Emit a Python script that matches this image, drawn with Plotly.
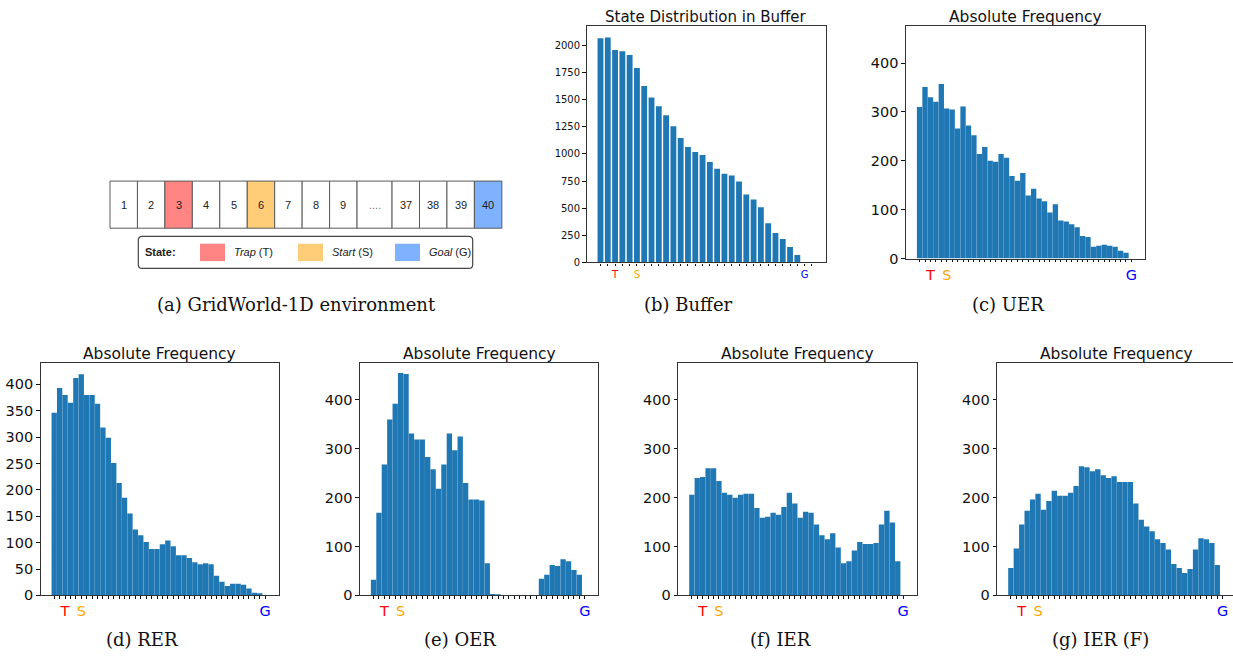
import plotly.graph_objects as go

W, H = 1233, 660

# ---------------- data ----------------
states = list(range(1, 41))
buffer_positions = list(range(1, 31))

buffer_counts = [2065, 2070, 1955, 1945, 1910, 1790, 1625, 1518, 1438, 1355,
                 1255, 1145, 1063, 1018, 990, 925, 862, 818, 800, 745,
                 625, 580, 508, 362, 272, 216, 143, 70, 0, 0]
uer_counts = [310, 351, 330, 321, 357, 307, 305, 266, 311, 272,
              252, 214, 228, 200, 198, 214, 206, 169, 159, 175,
              129, 143, 123, 117, 94, 111, 78, 76, 70, 64,
              46, 44, 24, 26, 28, 26, 24, 16, 12, 0]
rer_counts = [346, 393, 380, 365, 412, 419, 380, 380, 363, 318,
              299, 251, 213, 185, 155, 125, 114, 101, 88, 88,
              97, 104, 93, 76, 76, 71, 63, 59, 61, 59,
              37, 26, 18, 22, 22, 20, 13, 5, 4, 0]
oer_counts = [32, 169, 268, 360, 392, 455, 453, 331, 319, 319,
              283, 258, 218, 268, 331, 297, 325, 230, 196, 196,
              194, 66, 3, 1, 0, 0, 0, 0, 0, 0,
              0, 34, 42, 62, 60, 74, 70, 52, 42, 0]
ier_counts = [206, 240, 242, 260, 260, 234, 210, 206, 200, 206,
              208, 208, 179, 159, 161, 169, 165, 181, 210, 188,
              159, 171, 169, 145, 123, 115, 127, 98, 66, 70,
              92, 109, 105, 105, 107, 145, 173, 149, 70, 0]
ierf_counts = [56, 96, 145, 173, 196, 208, 175, 193, 214, 204,
               204, 210, 224, 264, 262, 254, 258, 246, 240, 244,
               232, 232, 232, 188, 155, 141, 131, 115, 107, 94,
               64, 56, 46, 54, 94, 117, 115, 107, 62, 0]

state_marks = {3: "T", 6: "S", 40: "G"}
buffer_marks = {3: "T", 6: "S", 29: "G"}
mark_colors = {"T": "red", "S": "orange", "G": "blue"}

buffer_yticks = [0, 250, 500, 750, 1000, 1250, 1500, 1750, 2000]
freq_yticks = [0, 100, 200, 300, 400]
rer_yticks = [0, 50, 100, 150, 200, 250, 300, 350, 400]

grid_labels = ["1", "2", "3", "4", "5", "6", "7", "8", "9", "....", "37", "38", "39", "40"]
trap_label, start_label, goal_label = "3", "6", "40"

captions = ["(a) GridWorld-1D environment", "(b) Buffer", "(c) UER",
            "(d) RER", "(e) OER", "(f) IER", "(g) IER (F)"]

# ---------------- helpers ----------------
BAR = "#1f77b4"
TRAP_C, START_C, GOAL_C = "#FF8585", "#FFCD78", "#7EB2FF"


def X(px):
    return px / W


def Y(py):
    return 1 - py / H


fig = go.Figure()
layout = dict(width=W, height=H, margin=dict(l=0, r=0, t=0, b=0),
              paper_bgcolor="white", plot_bgcolor="white", showlegend=False,
              shapes=[], annotations=[])

panels = [
    dict(x=buffer_positions, y=buffer_counts, frame=(586.7, 825.7, 26.7, 265.7),
         xr=[-0.89, 31.89], yr=[0, 2173.5], yt=buffer_yticks,
         title="State Distribution in Buffer", marks=buffer_marks, bw=0.8, fs=10, tfs=15),
    dict(x=states, y=uer_counts, frame=(906, 1145, 26.7, 261.7),
         xr=[-1.5, 42.5], yr=[0, 475], yt=freq_yticks,
         title="Absolute Frequency", marks=state_marks, bw=0.985, fs=14.5, tfs=15.5),
    dict(x=states, y=rer_counts, frame=(40.7, 278.7, 367.7, 602.7),
         xr=[-1.5, 42.5], yr=[0, 440], yt=rer_yticks,
         title="Absolute Frequency", marks=state_marks, bw=0.985, fs=14.5, tfs=15.5),
    dict(x=states, y=oer_counts, frame=(360, 598.3, 367.7, 602.7),
         xr=[-1.5, 42.5], yr=[0, 475], yt=freq_yticks,
         title="Absolute Frequency", marks=state_marks, bw=0.985, fs=14.5, tfs=15.5),
    dict(x=states, y=ier_counts, frame=(678.3, 916.7, 367.7, 602.7),
         xr=[-1.5, 42.5], yr=[0, 475], yt=freq_yticks,
         title="Absolute Frequency", marks=state_marks, bw=0.985, fs=14.5, tfs=15.5),
    dict(x=states, y=ierf_counts, frame=(997.3, 1236.3, 367.7, 602.7),
         xr=[-1.5, 42.5], yr=[0, 475], yt=freq_yticks,
         title="Absolute Frequency", marks=state_marks, bw=0.985, fs=14.5, tfs=15.5),
]

for i, p in enumerate(panels):
    n = i + 1
    xa = "x" if n == 1 else f"x{n}"
    ya = "y" if n == 1 else f"y{n}"
    x0, x1, y0, y1 = p["frame"]
    xr = list(p["xr"])
    right_line = True
    if x1 > W:
        xr[1] = xr[0] + (W - x0) / (x1 - x0) * (xr[1] - xr[0])
        x1 = W
        right_line = False
    fig.add_trace(go.Bar(x=p["x"], y=p["y"], width=p["bw"], marker=dict(color=BAR, line=dict(width=0)),
                         xaxis=xa, yaxis=ya, hoverinfo="x+y"))
    ticktext = []
    for s in p["x"]:
        if s in p["marks"]:
            lab = p["marks"][s]
            ticktext.append(f"<span style='color:{mark_colors[lab]}'>{lab}</span>")
        else:
            ticktext.append("")
    xkey = "xaxis" if n == 1 else f"xaxis{n}"
    ykey = "yaxis" if n == 1 else f"yaxis{n}"
    layout[xkey] = dict(domain=[X(x0), X(x1)], range=xr, anchor=ya,
                        tickmode="array", tickvals=p["x"], ticktext=ticktext,
                        ticks="outside", ticklen=2.5, tickwidth=1, tickcolor="#111",
                        tickfont=dict(family="DejaVu Sans", size=p["fs"]),
                        showgrid=False, zeroline=False, showline=True,
                        linecolor="#333", linewidth=1.2, mirror=True, fixedrange=True)
    layout[ykey] = dict(domain=[Y(y1), Y(y0)], range=p["yr"], anchor=xa,
                        tickmode="array", tickvals=p["yt"],
                        ticks="outside", ticklen=3.5, tickwidth=1, tickcolor="#111",
                        tickfont=dict(family="DejaVu Sans", size=p["fs"], color="#111"),
                        showgrid=False, zeroline=False, showline=True,
                        linecolor="#333", linewidth=1.2, mirror=right_line, fixedrange=True)
    fx0, fx1 = p["frame"][0], p["frame"][1]
    layout["annotations"].append(dict(
        text=p["title"], xref="paper", yref="paper", x=X((fx0 + fx1) / 2), y=Y(y0 - 9.0),
        xanchor="center", yanchor="middle", showarrow=False,
        font=dict(family="DejaVu Sans", size=p["tfs"], color="#111")))

# ---------------- GridWorld diagram ----------------
gx0, gy0, gy1 = 110.0, 183.3, 231.0
cw, wide = 27.45, 35.0
cx = gx0
for lab in grid_labels:
    w = wide if lab == "...." else cw
    fill = "white"
    if lab == trap_label:
        fill = TRAP_C
    elif lab == start_label:
        fill = START_C
    elif lab == goal_label:
        fill = GOAL_C
    layout["shapes"].append(dict(type="rect", xref="paper", yref="paper",
                                 x0=X(cx), x1=X(cx + w), y0=Y(gy1), y1=Y(gy0),
                                 fillcolor=fill, line=dict(color="#5a5a5a", width=1), layer="above"))
    layout["annotations"].append(dict(text=lab, xref="paper", yref="paper",
                                      x=X(cx + w / 2), y=Y((gy0 + gy1) / 2), xanchor="center", yanchor="middle",
                                      showarrow=False,
                                      font=dict(family="Liberation Sans, Arial", size=11,
                                                color="#777" if lab == "...." else "#222")))
    cx += w

# legend box with rounded corners
bx0, bx1, by0, by1, r = 138.3, 472.7, 239.3, 271.7, 4.0
path = (f"M {X(bx0 + r)} {Y(by0)} L {X(bx1 - r)} {Y(by0)} Q {X(bx1)} {Y(by0)} {X(bx1)} {Y(by0 + r)} "
        f"L {X(bx1)} {Y(by1 - r)} Q {X(bx1)} {Y(by1)} {X(bx1 - r)} {Y(by1)} "
        f"L {X(bx0 + r)} {Y(by1)} Q {X(bx0)} {Y(by1)} {X(bx0)} {Y(by1 - r)} "
        f"L {X(bx0)} {Y(by0 + r)} Q {X(bx0)} {Y(by0)} {X(bx0 + r)} {Y(by0)} Z")
layout["shapes"].append(dict(type="path", xref="paper", yref="paper", path=path,
                             line=dict(color="#444", width=1.2), fillcolor="white"))
ly = (by0 + by1) / 2
layout["annotations"].append(dict(text="<b>State:</b>", xref="paper", yref="paper", x=X(143), y=Y(ly),
                                  xanchor="left", yanchor="middle", showarrow=False,
                                  font=dict(family="Liberation Sans, Arial", size=11, color="#222")))
legend_items = [(200, TRAP_C, "<i>Trap</i> (T)"), (298, START_C, "<i>Start</i> (S)"), (395, GOAL_C, "<i>Goal</i> (G)")]
for sx, col, txt in legend_items:
    layout["shapes"].append(dict(type="rect", xref="paper", yref="paper",
                                 x0=X(sx), x1=X(sx + 25), y0=Y(264.3), y1=Y(246.7),
                                 fillcolor=col, line=dict(width=0)))
    layout["annotations"].append(dict(text=txt, xref="paper", yref="paper", x=X(sx + 32), y=Y(ly),
                                      xanchor="left", yanchor="middle", showarrow=False,
                                      font=dict(family="Liberation Sans, Arial", size=11, color="#222")))

# ---------------- captions ----------------
cap_pos = [(296, 308), (689, 308), (1008, 308), (142, 647), (460, 647), (780, 647), (1100, 647)]
for txt, (cxp, cyp) in zip(captions, cap_pos):
    layout["annotations"].append(dict(text=txt, xref="paper", yref="paper", x=X(cxp), y=Y(cyp),
                                      xanchor="center", yanchor="middle", showarrow=False,
                                      font=dict(family="DejaVu Serif", size=18, color="#111")))

fig.update_layout(**layout)
fig.write_html("out.html")
